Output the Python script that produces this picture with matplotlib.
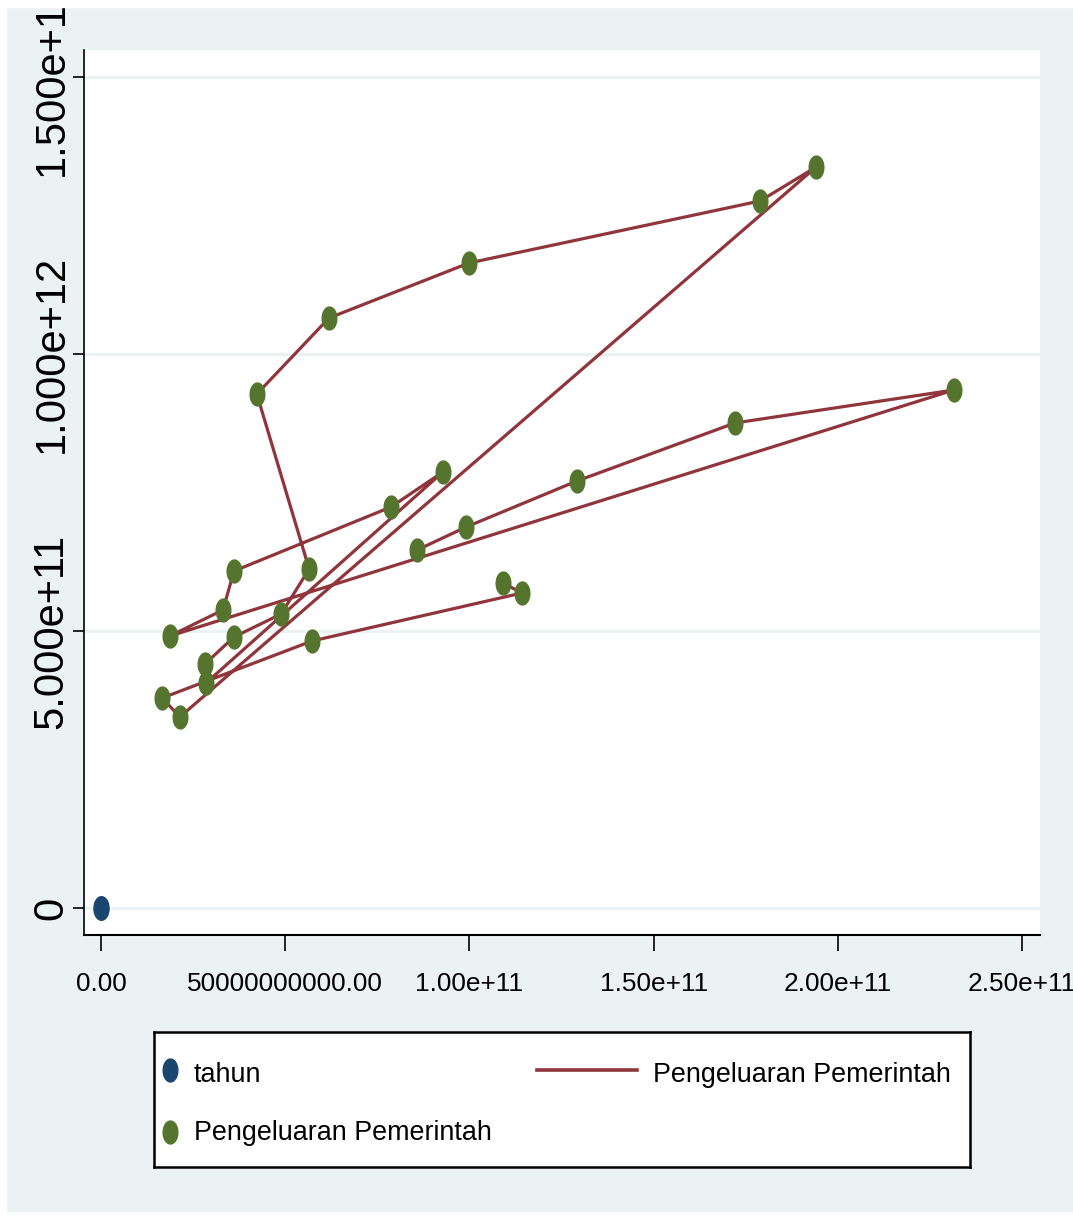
import numpy as np
import matplotlib
matplotlib.use("Agg")
import matplotlib.pyplot as plt
from matplotlib import font_manager
from matplotlib.path import Path
from matplotlib.patches import Rectangle

# ── data (values in rupiah) ─────────────────────────────────────────
pengeluaran_x = np.array([109.1, 114.3, 57.3, 16.6, 21.4, 194.1, 178.9, 99.9,
                          61.9, 42.3, 56.5, 48.9, 36.1, 28.2, 28.5, 92.8,
                          78.7, 36.1, 33.1, 18.7, 231.5, 172.1, 129.2, 99.1,
                          85.8]) * 1e9
pengeluaran_y = np.array([586.6, 568.6, 482.0, 379.1, 344.8, 1337.5, 1276.2,
                          1164.3, 1065.0, 927.8, 611.9, 530.7, 489.2, 440.4,
                          406.1, 787.0, 723.8, 608.3, 537.9, 491.0, 935.0,
                          875.5, 770.8, 687.7, 646.2]) * 1e9
tahun_x = [0.0]
tahun_y = [0.0]

x_ticks = [0, 5e10, 1e11, 1.5e11, 2e11, 2.5e11]
x_tick_labels = ["0.00", "50000000000.00", "1.00e+11", "1.50e+11", "2.00e+11", "2.50e+11"]
y_ticks = [0, 5e11, 1e12, 1.5e12]
y_tick_labels = ["0", "5.000e+11", "1.000e+12", "1.500e+12"]

legend_labels = ["tahun", "Pengeluaran Pemerintah", "Pengeluaran Pemerintah"]

NAVY = "#1a476f"
GREEN = "#55752f"
MAROON = "#90353b"
BG = "#eaf2f3"

# the original is squeezed sideways: prefer a condensed face if one is installed
installed = {f.name for f in font_manager.fontManager.ttflist}
narrow_pick = [f for f in ["Noto Sans ExtraCondensed", "Noto Sans Condensed",
                           "Liberation Sans Narrow", "Noto Sans SemiCondensed"]
               if f in installed]
NARROW = narrow_pick[:1] + ["Liberation Sans", "DejaVu Sans"]
REGULAR = ["Liberation Sans", "DejaVu Sans"]

W, H = 1073, 1219

# squeezed ellipse marker, like the reference
t = np.linspace(0, 2 * np.pi, 64)
ellipse = Path(np.column_stack([0.64 * np.cos(t), np.sin(t)]), closed=True)

fig = plt.figure(figsize=(W / 100, H / 100), dpi=100)
fig.patch.set_facecolor("white")
renderer = fig.canvas.get_renderer()


def fit_size(s, family, target_px, base=20.0):
    """Font size that makes text s about target_px wide."""
    tmp = fig.text(0, 0, s, family=family, fontsize=base)
    w = tmp.get_window_extent(renderer=renderer).width
    tmp.remove()
    return base * target_px / w


xtick_fs = fit_size("50000000000.00", NARROW, 198)
legend_fs = fit_size("Pengeluaran Pemerintah", NARROW, 297)
ytick_fs = fit_size("5.000e+11", REGULAR, 196)

fig.add_artist(Rectangle((6 / W, (H - 1211) / H), (W - 6) / W, (1211 - 7) / H,
                         transform=fig.transFigure, color=BG, zorder=-1))

ax = fig.add_axes([84 / W, (H - 935) / H, (1040 - 84) / W, (935 - 50) / H])
ax.set_facecolor("white")

ax.plot(pengeluaran_x, pengeluaran_y, color=MAROON, lw=2.3, zorder=2)
ax.plot(pengeluaran_x, pengeluaran_y, ls="none", marker=ellipse, ms=16.5,
        color=GREEN, zorder=3)
ax.plot(tahun_x, tahun_y, ls="none", marker=ellipse, ms=17, color=NAVY, zorder=3)

ax.set_xlim((84 - 101) / 3.684 * 1e9, (1040 - 101) / 3.684 * 1e9)
ax.set_ylim((908 - 935) / 0.554 * 1e9, (908 - 50) / 0.554 * 1e9)

ax.set_xticks(x_ticks)
ax.set_xticklabels(x_tick_labels, family=NARROW, fontsize=xtick_fs)
ax.set_yticks(y_ticks)
ax.set_yticklabels(y_tick_labels, family=REGULAR, fontsize=ytick_fs, rotation=90,
                   va="center")

ax.tick_params(axis="x", length=11.5, width=1.2, pad=15)
ax.tick_params(axis="y", length=8, width=1.2, pad=1)

ax.yaxis.grid(True, color=BG, lw=2.2)
ax.set_axisbelow(True)
for side in ["top", "right"]:
    ax.spines[side].set_visible(False)
ax.spines["left"].set_linewidth(1.2)
ax.spines["bottom"].set_linewidth(1.5)

# ── legend box (drawn in its own axes, pixel units) ─────────────────
lax = fig.add_axes([154 / W, (H - 1167) / H, (970 - 154) / W, (1167 - 1032) / H])
lax.set_xlim(0, 816)
lax.set_ylim(135, 0)
lax.set_xticks([])
lax.set_yticks([])
for sp in lax.spines.values():
    sp.set_linewidth(1.8)
    sp.set_color("black")

lax.plot([16], [38], ls="none", marker=ellipse, ms=16.5, color=NAVY)
lax.plot([16], [100], ls="none", marker=ellipse, ms=16.5, color=GREEN)
lax.plot([383, 483], [38, 38], color=MAROON, lw=2.6)
lax.text(40, 50, legend_labels[0], family=NARROW, fontsize=legend_fs, va="baseline")
lax.text(40, 108, legend_labels[1], family=NARROW, fontsize=legend_fs, va="baseline")
lax.text(499, 50, legend_labels[2], family=NARROW, fontsize=legend_fs, va="baseline")

# white border strips (clip the top y label like the original)
fig.add_artist(Rectangle((0, 1 - 7 / H), 1, 7 / H, transform=fig.transFigure,
                         color="white", zorder=10))
fig.add_artist(Rectangle((0, 0), 6 / W, 1, transform=fig.transFigure,
                         color="white", zorder=10))

fig.savefig("out.png", dpi=100)
